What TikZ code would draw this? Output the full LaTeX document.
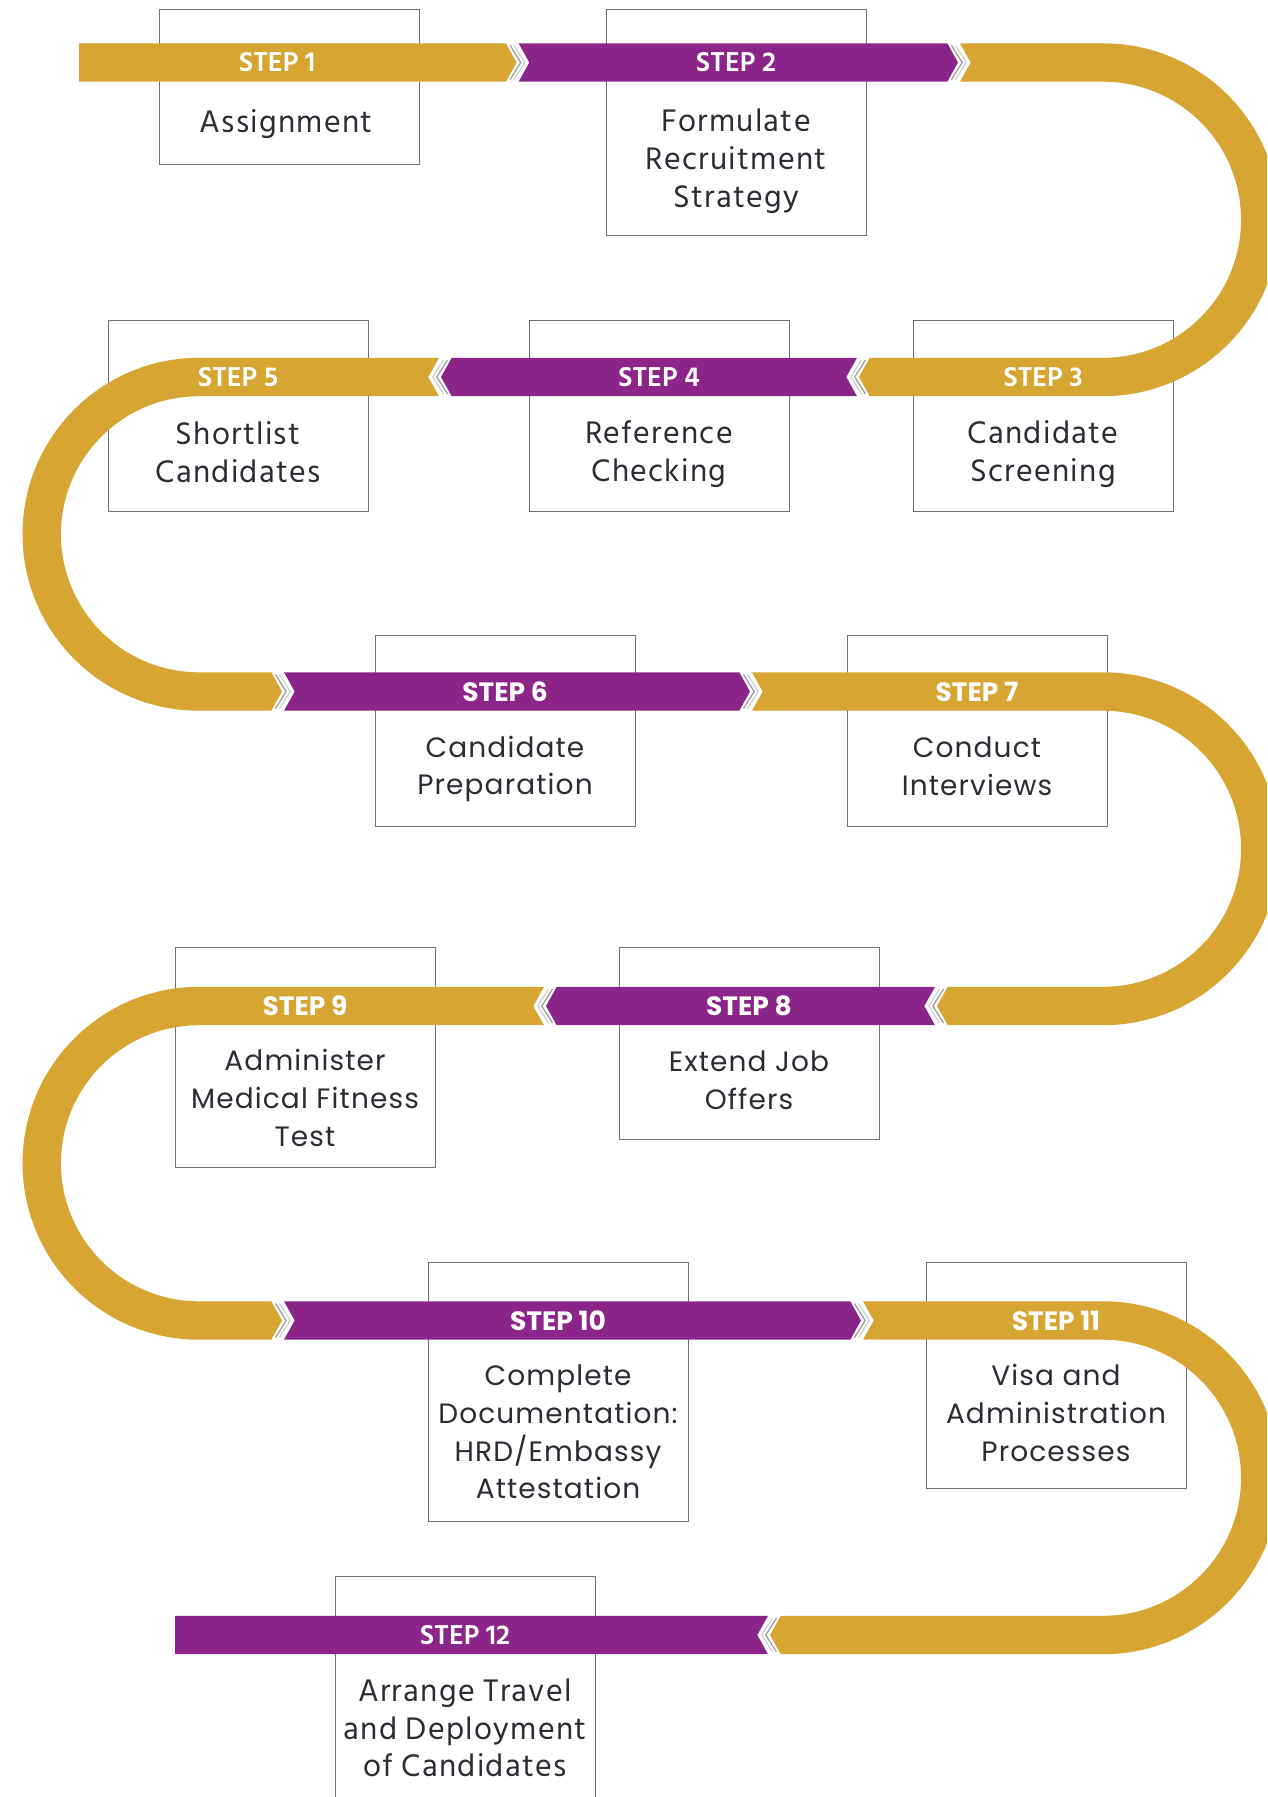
\documentclass[tikz,border=0pt]{standalone}
\usepackage{fontspec}
\setmainfont{Poppins}
\newfontfamily\popfont[LetterSpace=4]{Poppins}
\newfontfamily\hindfont[LetterSpace=4]{Hind Siliguri}
\newfontfamily\hindstep{Hind Siliguri}
\definecolor{gold}{RGB}{214,165,50}
\definecolor{purp}{RGB}{139,37,137}
\definecolor{boxline}{RGB}{110,112,115}
\definecolor{txt}{RGB}{42,45,52}
\tikzset{
  stepbox/.style={draw=boxline, line width=1.4pt, minimum width=260pt, anchor=north west, inner sep=0pt},
  steplabel/.style={text=white, inner sep=0pt, font=\fontsize{26.5}{30}\selectfont\bfseries},
  steplabelh/.style={text=white, inner sep=0pt, font=\hindstep\fontsize{28}{30}\selectfont\bfseries},
  boxtext/.style={text=txt, align=center, inner sep=0pt, font=\popfont\fontsize{28}{37.8}\selectfont},
  boxtexth/.style={text=txt, align=center, inner sep=0pt, font=\hindfont\fontsize{32}{37.8}\selectfont},
  goldband/.style={fill=gold},
  purpband/.style={fill=purp},
  chevA/.style={draw=gray!75, line width=1.3pt},
  chevB/.style={draw=gray!40, line width=1.1pt}
}
\newcommand\chevright[2]{%
  \draw[chevA] ({#1-10.7+4.2},{-#2+17}) -- ({#1+4.2},{-#2}) -- ({#1-10.7+4.2},{-#2-17});
  \draw[chevB] ({#1-10.7+8.2},{-#2+17}) -- ({#1+8.2},{-#2}) -- ({#1-10.7+8.2},{-#2-17});
}
\newcommand\chevleft[2]{%
  \draw[chevA] ({#1+10.7-4.2},{-#2+17}) -- ({#1-4.2},{-#2}) -- ({#1+10.7-4.2},{-#2-17});
  \draw[chevB] ({#1+10.7-8.2},{-#2+17}) -- ({#1-8.2},{-#2}) -- ({#1+10.7-8.2},{-#2-17});
}
\begin{document}
\begin{tikzpicture}[x=1pt,y=1pt]
\useasboundingbox (0,0) rectangle (1267,-1797);
\clip (0,0) rectangle (1267,-1797);
\fill[white] (0,0) rectangle (1267,-1797);

% boxes
\node[stepbox, minimum height=155pt] (b1) at (159,-9) {};
\node[stepbox, minimum height=226pt] (b2) at (606,-9) {};
\node[stepbox, minimum height=191pt] (b3) at (913,-320) {};
\node[stepbox, minimum height=191pt] (b4) at (529,-320) {};
\node[stepbox, minimum height=191pt] (b5) at (108,-320) {};
\node[stepbox, minimum height=191pt] (b6) at (375,-635) {};
\node[stepbox, minimum height=191pt] (b7) at (847,-635) {};
\node[stepbox, minimum height=192pt] (b8) at (619,-947) {};
\node[stepbox, minimum height=220pt] (b9) at (175,-947) {};
\node[stepbox, minimum height=259pt] (b10) at (428,-1262) {};
\node[stepbox, minimum height=226pt] (b11) at (926,-1262) {};
\node[stepbox, minimum height=240pt] (b12) at (335,-1576) {};

% band pieces
\fill[goldband] (79,-43.3) -- (505.9,-43.3) -- (516.6,-62.5) -- (505.9,-81.7) -- (79,-81.7) -- cycle;
\fill[purpband] (518.6,-43.3) -- (947.3,-43.3) -- (958,-62.5) -- (947.3,-81.7) -- (518.6,-81.7) -- (529.3,-62.5) -- cycle;
\fill[goldband] (960,-43.3) -- (1103,-43.3) arc[start angle=90,end angle=-90,radius=176.45pt] -- (869.7,-396.2) -- (859,-377) -- (869.7,-357.8) -- (1103,-357.8) arc[start angle=-90,end angle=90,radius=138.05pt] -- (960,-81.7) -- (970.7,-62.5) -- cycle;
\fill[purpband] (857,-357.8) -- (451.7,-357.8) -- (441,-377) -- (451.7,-396.2) -- (857,-396.2) -- (846.3,-377) -- cycle;
\fill[goldband] (439,-357.8) -- (199,-357.8) arc[start angle=90,end angle=270,radius=176.45pt] -- (271.3,-710.7) -- (282,-691.5) -- (271.3,-672.3) -- (199,-672.3) arc[start angle=270,end angle=90,radius=138.05pt] -- (439,-396.2) -- (428.3,-377) -- cycle;
\fill[purpband] (284,-672.3) -- (739.3,-672.3) -- (750,-691.5) -- (739.3,-710.7) -- (284,-710.7) -- (294.7,-691.5) -- cycle;
\fill[goldband] (752,-672.3) -- (1103,-672.3) arc[start angle=90,end angle=-90,radius=176.45pt] -- (947.7,-1025.2) -- (937,-1006) -- (947.7,-986.8) -- (1103,-986.8) arc[start angle=-90,end angle=90,radius=138.05pt] -- (752,-710.7) -- (762.7,-691.5) -- cycle;
\fill[purpband] (935,-986.8) -- (556.7,-986.8) -- (546,-1006) -- (556.7,-1025.2) -- (935,-1025.2) -- (924.3,-1006) -- cycle;
\fill[goldband] (544,-986.8) -- (199,-986.8) arc[start angle=90,end angle=270,radius=176.45pt] -- (271.3,-1339.7) -- (282,-1320.5) -- (271.3,-1301.3) -- (199,-1301.3) arc[start angle=270,end angle=90,radius=138.05pt] -- (544,-1025.2) -- (533.3,-1006) -- cycle;
\fill[purpband] (284,-1301.3) -- (850.3,-1301.3) -- (861,-1320.5) -- (850.3,-1339.7) -- (284,-1339.7) -- (294.7,-1320.5) -- cycle;
\fill[goldband] (863,-1301.3) -- (1103,-1301.3) arc[start angle=90,end angle=-90,radius=176.45pt] -- (780.7,-1654.2) -- (770,-1635) -- (780.7,-1615.8) -- (1103,-1615.8) arc[start angle=-90,end angle=90,radius=138.05pt] -- (863,-1339.7) -- (873.7,-1320.5) -- cycle;
\fill[purpband] (768,-1615.8) -- (175,-1615.8) -- (175,-1654.2) -- (768,-1654.2) -- (757.3,-1635) -- cycle;

% chevron separators
\chevright{516.6}{62.5}
\chevright{958}{62.5}
\chevleft{859}{377}
\chevleft{441}{377}
\chevright{282}{691.5}
\chevright{750}{691.5}
\chevleft{937}{1006}
\chevleft{546}{1006}
\chevright{282}{1320.5}
\chevright{861}{1320.5}
\chevleft{770}{1635}

% step labels
\node[steplabelh] (s1) at (277,-62.5) {STEP 1};
\node[steplabelh] (s2) at (736,-62.5) {STEP 2};
\node[steplabelh] (s3) at (1043,-377) {STEP 3};
\node[steplabelh] (s4) at (659,-377) {STEP 4};
\node[steplabelh] (s5) at (238,-377) {STEP 5};
\node[steplabel] (s6) at (505,-691.5) {STEP 6};
\node[steplabel] (s7) at (977,-691.5) {STEP 7};
\node[steplabel] (s8) at (749,-1006) {STEP 8};
\node[steplabel] (s9) at (305,-1006) {STEP 9};
\node[steplabel] (s10) at (558,-1320.5) {STEP 10};
\node[steplabel] (s11) at (1056,-1320.5) {STEP 11};
\node[steplabelh] (s12) at (465,-1635) {STEP 12};

% box texts
\node[boxtexth] (t1) at (286,-124) {Assignment};
\node[boxtexth] (t2) at (736,-161.5) {Formulate\\Recruitment\\Strategy};
\node[boxtexth] (t3) at (1043,-454) {Candidate\\Screening};
\node[boxtexth] (t4) at (659,-454) {Reference\\Checking};
\node[boxtexth] (t5) at (238,-452) {Shortlist\\Candidates};
\node[boxtext] (t6) at (505,-769) {Candidate\\Preparation};
\node[boxtext] (t7) at (977,-766) {Conduct\\Interviews};
\node[boxtext] (t8) at (749,-1080) {Extend Job\\Offers};
\node[boxtext] (t9) at (305,-1098) {Administer\\Medical Fitness\\Test};
\node[boxtext] (t10) at (558,-1432) {Complete\\Documentation:\\HRD/Embassy\\Attestation};
\node[boxtext] (t11) at (1056,-1413) {Visa and\\Administration\\Processes};
\node[boxtexth] (t12) at (465,-1728) {Arrange Travel\\and Deployment\\of Candidates};
\end{tikzpicture}
\end{document}
